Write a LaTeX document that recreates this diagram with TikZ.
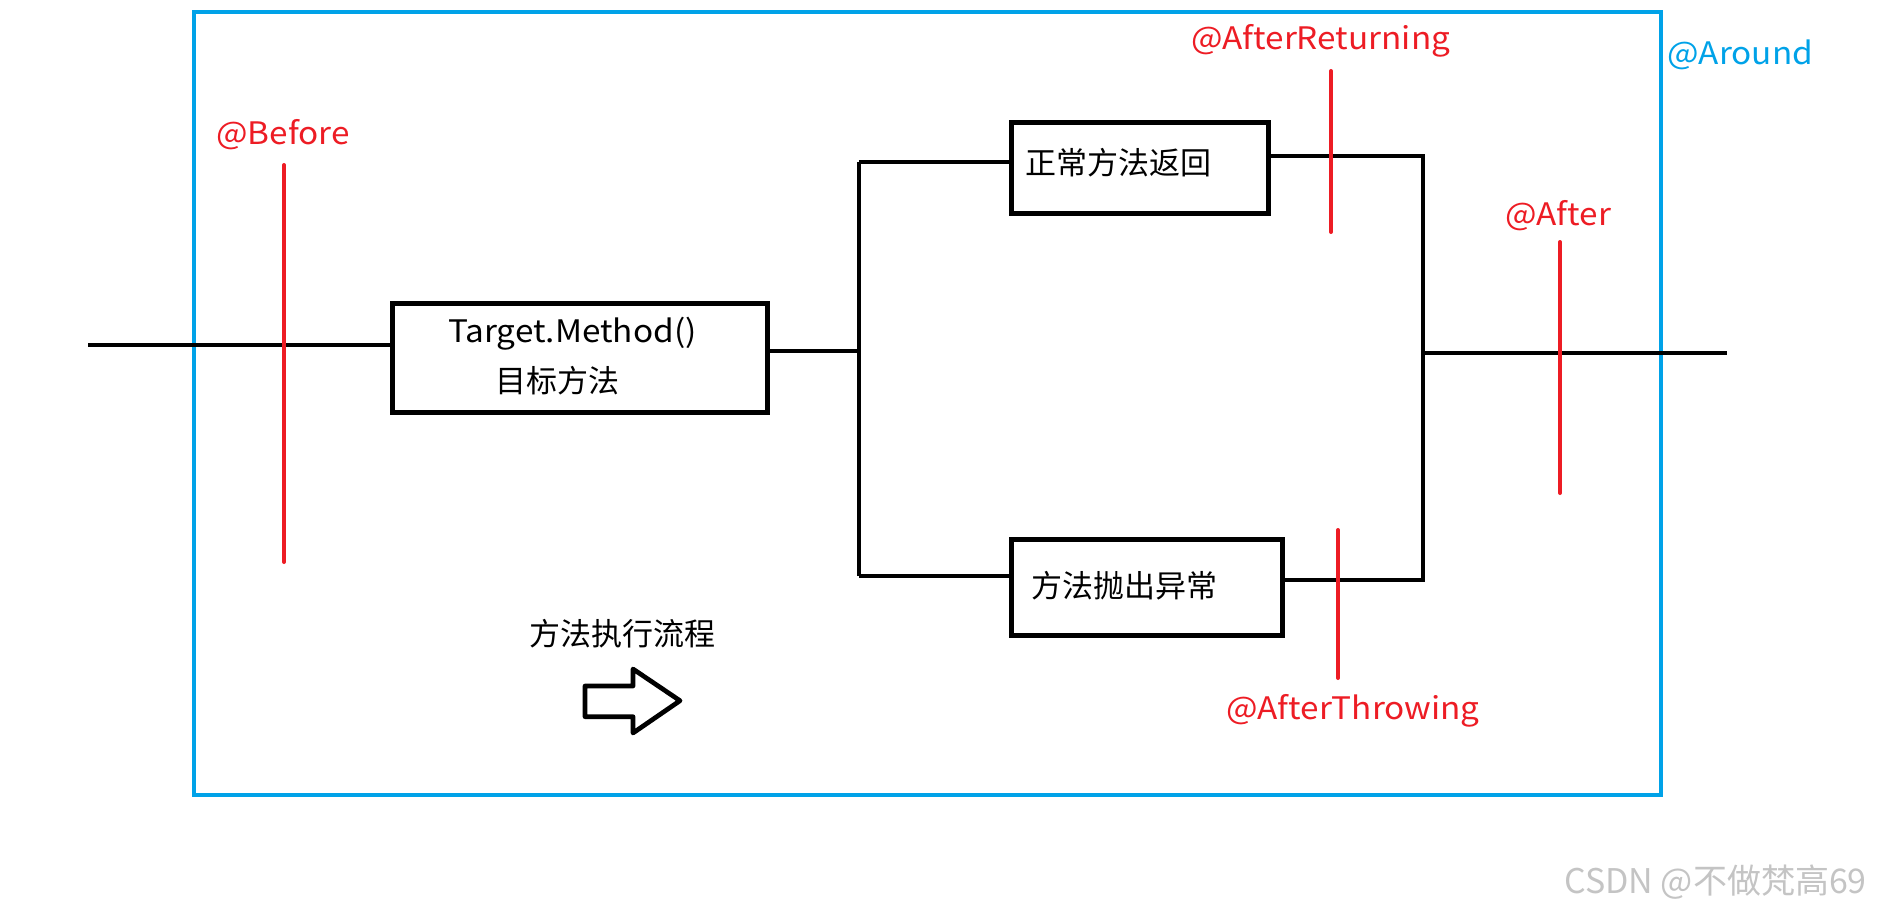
\documentclass[tikz,border=0pt]{standalone}
\usepackage{fontspec}
\setmainfont{Noto Sans CJK SC}
\newfontfamily\latinfont[FakeStretch=1.075]{Noto Sans CJK SC}
\definecolor{pred}{HTML}{ED1C24}
\definecolor{pblue}{HTML}{00A2E8}
\definecolor{wm}{HTML}{C4C4C4}
\tikzset{
  flow/.style={draw=black, line width=4.6pt},
  boxnode/.style={draw=black, line width=5pt, minimum width=#1, inner sep=0pt},
  cut/.style={draw=pred, line width=4pt, line cap=round},
  redlbl/.style={text=pred, font=\latinfont\fontsize{31}{31}\selectfont, inner sep=0pt, anchor=base west},
  blacklbl/.style={text=black, font=\fontsize{31}{31}\selectfont, inner sep=0pt, anchor=base west},
}
\begin{document}
\begin{tikzpicture}[x=1pt,y=-1pt]
\useasboundingbox (0,0) rectangle (1894,912);
% around frame
\draw[pblue, line width=4.6pt] (194,12) rectangle (1661,795);
\node[text=pblue, font=\latinfont\fontsize{31}{31}\selectfont, inner sep=0pt, anchor=base west] (around) at (1667,65) {@Around};
% boxes
\node[boxnode=375pt, minimum height=109pt] (target) at (579.5,357.5) {};
\node[boxnode=257pt, minimum height=90pt] (ret) at (1139.5,168) {};
\node[boxnode=271pt, minimum height=96pt] (thr) at (1146.5,587) {};
\node[blacklbl, font=\latinfont\fontsize{31}{31}\selectfont] (tm) at (448,342) {Target.Method()};
\node[blacklbl] (tmcn) at (495,392) {目标方法};
\node[blacklbl] (rettxt) at (1025,175) {正常方法返回};
\node[blacklbl] (thrtxt) at (1031,597) {方法抛出异常};
\node[blacklbl] (flowtxt) at (529,645) {方法执行流程};
% connectors
\coordinate (in) at (88,345);
\coordinate (split) at (859,351);
\coordinate (stop) at (859,162);
\coordinate (sbot) at (859,576);
\coordinate (jtop) at (1423,156);
\coordinate (jbot) at (1423,580);
\coordinate (jmid) at (1423,353);
\coordinate (out) at (1727,353);
\draw[flow] (in) -- (in -| target.west);
\draw[flow] (target.east |- split) -- (split);
\draw[flow] (stop) -- (sbot);
\draw[flow] (stop) -- (stop -| ret.west);
\draw[flow] (sbot) -- (sbot -| thr.west);
\draw[flow] (jtop -| ret.east) -- (jtop) -- (jbot) -- (jbot -| thr.east);
\draw[flow] (jmid) -- (out);
% red cut lines
\coordinate (b1) at (284,165); \coordinate (b2) at (284,562);
\coordinate (r1) at (1331,71); \coordinate (r2) at (1331,232);
\coordinate (t1) at (1338,530); \coordinate (t2) at (1338,678);
\coordinate (a1) at (1560,242); \coordinate (a2) at (1560,493);
\draw[cut] (b1) -- (b2);
\draw[cut] (r1) -- (r2);
\draw[cut] (t1) -- (t2);
\draw[cut] (a1) -- (a2);
\node[redlbl] (before) at (216,145) {@Before};
\node[redlbl] (afterret) at (1191,50) {@AfterReturning};
\node[redlbl] (after) at (1505,225) {@After};
\node[redlbl] (afterthr) at (1226,719) {@AfterThrowing};
% flow arrow
\draw[black, line width=4.7pt, line join=round] (585,686) -- (633,686) -- (633,669) -- (680,700.7) -- (633,733) -- (633,716.7) -- (585,716.7) -- cycle;
% watermark
\node[text=wm, font=\fontsize{34}{34}\selectfont, inner sep=0pt, anchor=base west] (wmark) at (1564,893) {CSDN @不做梵高69};
\end{tikzpicture}
\end{document}
